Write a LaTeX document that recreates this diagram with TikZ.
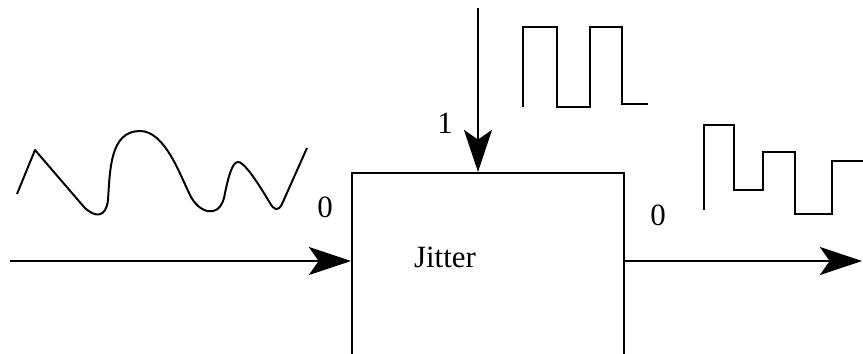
\documentclass[tikz,border=0pt]{standalone}
\usepackage{fontspec}
\setmainfont{Liberation Serif}
\usetikzlibrary{calc,arrows.meta}

\begin{document}
\begin{tikzpicture}[x=0.025cm,y=-0.025cm,line width=1.4pt,
  sig/.style={-{Stealth[length=30pt,width=20pt,inset=7pt]}},
  lbl/.style={font=\fontsize{22}{26}\selectfont}]
\useasboundingbox (0,0) rectangle (863,354);
\clip (0,0) rectangle (863,354);
% the block runs off the bottom edge
\node[draw,anchor=north west,minimum width=6.8cm,minimum height=6cm] (jitter) at (351,172) {};
\node[lbl] (name) at (445,257) {Jitter};
\coordinate (src) at (10,261);
\coordinate (sink) at (862,261);
\coordinate (clk) at (478,8);
\draw[sig] (src) -- (src -| jitter.west);
\draw[sig] (jitter.east |- sink) -- (sink);
\draw[sig] (clk) -- (clk |- jitter.north);
\node[lbl] (inbit) at (325,207) {0};
\node[lbl] (clkbit) at (445,123) {1};
\node[lbl] (outbit) at (658,215) {0};
% analog input
\draw[line join=round] (17,194) -- (35,150) -- (84,207) .. controls (95,218) and (106,218) .. (108,200)
  .. controls (110,170) and (110,131) .. (140,131) .. controls (165,131) and (180,175) .. (190,195)
  .. controls (198,212) and (218,220) .. (224,198) .. controls (228,178) and (232,162) .. (238,162)
  .. controls (246,162) and (265,195) .. (270,203) .. controls (274,210) and (278,212) .. (282,204) -- (307,148);
% clock
\draw (523,107) -- (523,27) -- (557,27) -- (557,107) -- (590,107) -- (590,27) -- (622,27) -- (622,104) -- (648,104);
% jittered output
\draw (704,210) -- (704,125) -- (734,125) -- (734,190) -- (763,190) -- (763,152) -- (795,152) -- (795,214) -- (832,214) -- (832,161) -- (865,161);
\end{tikzpicture}
\end{document}
